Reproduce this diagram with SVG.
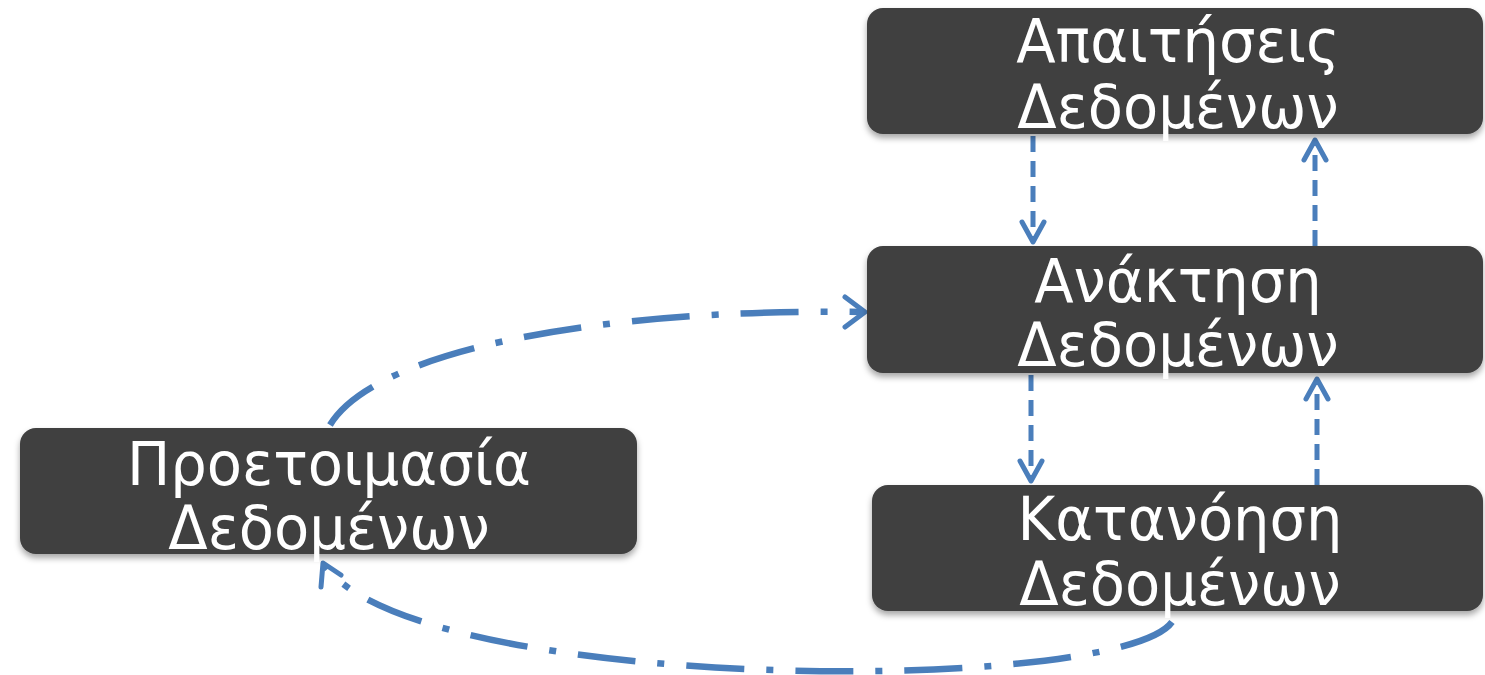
<svg xmlns="http://www.w3.org/2000/svg" width="1485" height="675" viewBox="0 0 1485 675">
<style>
.box{fill:#404040;filter:url(#sh)}
.lbl{fill:#ffffff;font-family:"DejaVu Sans","Noto Sans",sans-serif;font-size:60px;text-anchor:middle}
.dash{fill:none;stroke:#4a7ebb;stroke-width:5;stroke-dasharray:16 9}
.dd{fill:none;stroke:#4a7ebb;stroke-width:6.5;stroke-dasharray:58 22 7 22}
.head{fill:none;stroke:#4a7ebb;stroke-width:5;stroke-linecap:round;stroke-linejoin:round}
</style>
<defs>
<filter id="sh" x="-5%" y="-10%" width="110%" height="130%">
<feDropShadow dx="0" dy="4" stdDeviation="3" flood-color="#000" flood-opacity="0.35"/>
</filter>
</defs>
<rect width="1485" height="675" fill="#ffffff"/>
<g id="connectors">
<line class="dash" x1="1033" y1="136" x2="1033" y2="242"/>
<polyline class="head" points="1022,222 1033,242 1044,222"/>
<line class="dash" x1="1315" y1="246" x2="1315" y2="140"/>
<polyline class="head" points="1304,160 1315,140 1326,160"/>
<line class="dash" x1="1031" y1="375" x2="1031" y2="481"/>
<polyline class="head" points="1020,461 1031,481 1042,461"/>
<line class="dash" x1="1317" y1="485" x2="1317" y2="379"/>
<polyline class="head" points="1306,399 1317,379 1328,399"/>
<path class="dd" d="M330,425 C375,350 600,308 862,312"/>
<polyline class="head" points="845,297 865,312 845,327"/>
<path class="dd" d="M1172,622 C1120,695 420,695 325,566"/>
<polyline class="head" points="321,587 323,563 341,575"/>
</g>
<g id="n1">
<rect class="box" x="867" y="8" width="616" height="126" rx="16"/>
<g transform="translate(1178,0) scale(0.96,1)">
<text class="lbl" x="0" y="62">Απαιτήσεις</text>
<text class="lbl" x="0" y="128">Δεδομένων</text>
</g>
</g>
<g id="n2">
<rect class="box" x="867" y="246" width="616" height="127" rx="16"/>
<g transform="translate(1178,0) scale(0.96,1)">
<text class="lbl" x="0" y="302">Ανάκτηση</text>
<text class="lbl" x="0" y="366">Δεδομένων</text>
</g>
</g>
<g id="n3">
<rect class="box" x="872" y="485" width="611" height="126" rx="16"/>
<g transform="translate(1180,0) scale(0.96,1)">
<text class="lbl" x="0" y="540">Κατανόηση</text>
<text class="lbl" x="0" y="605">Δεδομένων</text>
</g>
</g>
<g id="n4">
<rect class="box" x="20" y="428" width="617" height="126" rx="16"/>
<g transform="translate(329,0) scale(0.96,1)">
<text class="lbl" x="0" y="485">Προετοιμασία</text>
<text class="lbl" x="0" y="549">Δεδομένων</text>
</g>
</g>
</svg>
